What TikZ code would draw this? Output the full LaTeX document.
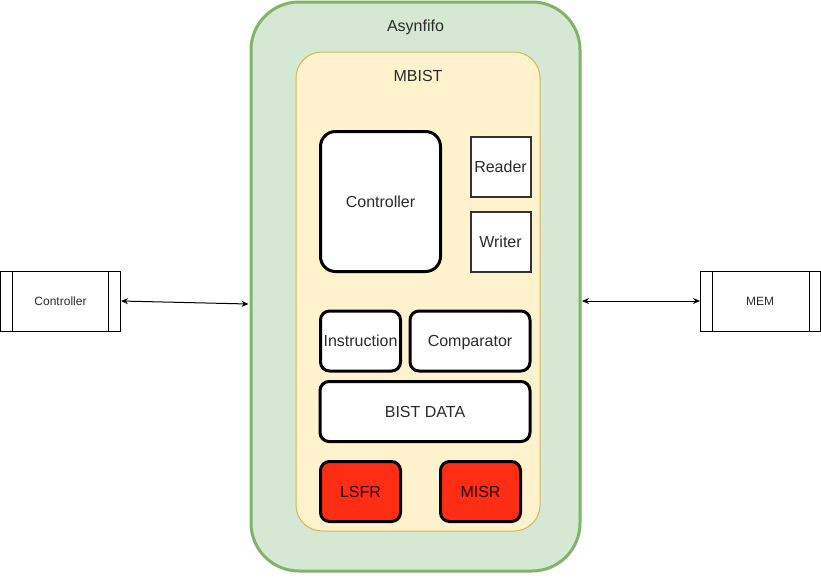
\documentclass[tikz,border=0pt]{standalone}
\usepackage{fontspec}
\setmainfont{Liberation Sans}
\usetikzlibrary{arrows.meta,calc}
\definecolor{grfill}{HTML}{D5E8D4}
\definecolor{grline}{HTML}{82B366}
\definecolor{yefill}{HTML}{FFF2CC}
\definecolor{yeline}{HTML}{D6B656}
\definecolor{redfill}{HTML}{FF2D14}
\definecolor{txt}{HTML}{2B2B2B}
\begin{document}
\begin{tikzpicture}[x=1pt,y=-1pt,
  every node/.style={inner sep=0pt,outer sep=0pt,text=txt,font=\fontsize{16}{18}\selectfont,text height=11.5pt,text depth=0pt},
  blk/.style={draw=black,line width=3pt,fill=white,rounded corners=9pt},
  sq/.style={draw=black!80,line width=2pt,fill=white},
  redblk/.style={blk,fill=redfill,text=black!85!red},
  proc/.style={draw=black,line width=1pt,fill=white,minimum width=120pt,minimum height=60pt,font=\fontsize{12}{14}\selectfont,text height=8.6pt},
  arr/.style={line width=1pt,{Stealth[length=7pt,width=6pt]}-{Stealth[length=7pt,width=6pt]}}]
\useasboundingbox (0,0) rectangle (821,582);
\fill[white] (0,0) rectangle (821,582);
% outer
\node[draw=grline,fill=grfill,line width=3pt,rounded corners=48pt,minimum width=329pt,minimum height=569pt] (asyn) at (415.5,286.5) {};
\node (asyntxt) at (415.5,26) {Asynfifo};
% inner
\node[draw=yeline,fill=yefill,line width=1pt,rounded corners=26pt,minimum width=244pt,minimum height=479pt] (mbist) at (418,291.5) {};
\node (mbisttxt) at (418,75.5) {MBIST};
% blocks
\node[blk,rounded corners=15pt,minimum width=120pt,minimum height=140pt] (ctrl) at (380.5,201.5) {Controller};
\node[sq,minimum width=60pt,minimum height=60pt] (reader) at (500.5,166.5) {Reader};
\node[sq,minimum width=60pt,minimum height=60pt] (writer) at (500.5,241.5) {Writer};
\node[blk,minimum width=80pt,minimum height=60pt] (instr) at (360.5,341) {Instruction};
\node[blk,minimum width=120pt,minimum height=60pt] (comp) at (470,341) {Comparator};
\node[blk,minimum width=210pt,minimum height=60pt] (bist) at (425,411.5) {BIST DATA};
\node[redblk,minimum width=80pt,minimum height=60pt] (lsfr) at (360.5,491.5) {LSFR};
\node[redblk,minimum width=80pt,minimum height=60pt] (misr) at (480.5,491.5) {MISR};
% side process boxes
\node[proc] (lctrl) at (60.5,301.5) {Controller};
\draw[line width=1pt] ($(lctrl.north west)+(12,0)$) -- ($(lctrl.south west)+(12,0)$);
\draw[line width=1pt] ($(lctrl.north east)+(-12,0)$) -- ($(lctrl.south east)+(-12,0)$);
\node[proc] (mem) at (760,301.5) {MEM};
\draw[line width=1pt] ($(mem.north west)+(12,0)$) -- ($(mem.south west)+(12,0)$);
\draw[line width=1pt] ($(mem.north east)+(-11,0)$) -- ($(mem.south east)+(-11,0)$);
% connectors
\coordinate (lend) at (248.5,304);
\coordinate (rstart) at (582,301);
\draw[arr] ($(lctrl.east)+(0.5,-0.5)$) -- (lend);
\draw[arr] (rstart) -- ($(mem.west)+(0,-0.5)$);
\end{tikzpicture}
\end{document}
